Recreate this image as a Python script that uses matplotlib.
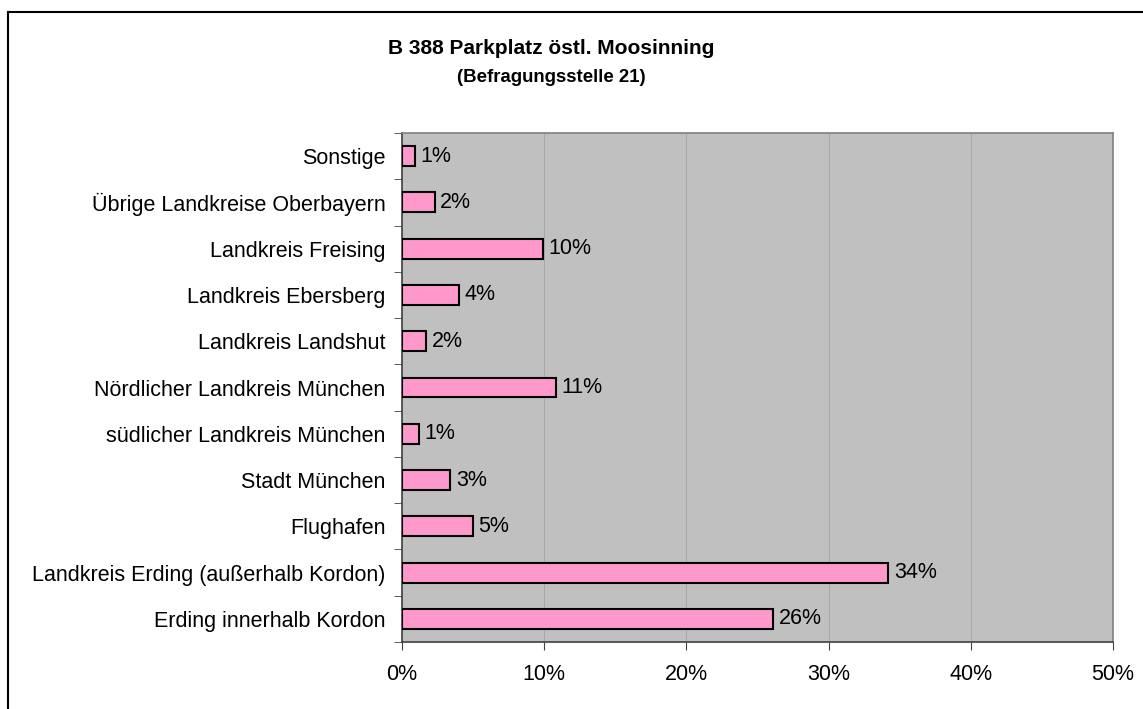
import matplotlib.pyplot as plt
import numpy as np
from matplotlib.lines import Line2D
from matplotlib.ticker import FuncFormatter, FixedLocator

plt.rcParams["font.family"] = ["Liberation Sans", "DejaVu Sans"]

categories = [
    "Erding innerhalb Kordon",
    "Landkreis Erding (außerhalb Kordon)",
    "Flughafen",
    "Stadt München",
    "südlicher Landkreis München",
    "Nördlicher Landkreis München",
    "Landkreis Landshut",
    "Landkreis Ebersberg",
    "Landkreis Freising",
    "Übrige Landkreise Oberbayern",
    "Sonstige",
]
shares = [26.1, 34.2, 5.0, 3.4, 1.2, 10.8, 1.7, 4.0, 9.9, 2.3, 0.9]
x_ticks = [0, 10, 20, 30, 40, 50]

W, H = 1143, 709
fig = plt.figure(figsize=(W / 100, H / 100), dpi=100)
fig.patch.set_facecolor("white")

# chart-area frame: only the top and left edges fall inside the image
fig.lines.append(Line2D([8 / W, 1], [1 - 12 / H, 1 - 12 / H], transform=fig.transFigure,
                        color="black", linewidth=1.5))
fig.lines.append(Line2D([8 / W, 8 / W], [0, 1 - 12 / H], transform=fig.transFigure,
                        color="black", linewidth=1.5))

ax = fig.add_axes([0.3517, 0.0945, 0.6221, 0.7179])
ax.set_facecolor("#c0c0c0")

y = np.arange(len(categories))
ax.barh(y, shares, height=0.43, color="#ff99cc", edgecolor="black", linewidth=1.5, zorder=3)
for yi, v in zip(y, shares):
    ax.annotate(f"{v:.0f}%", (v, yi), xytext=(4, 0), textcoords="offset points",
                va="center", ha="left", fontsize=15.5, zorder=4)

ax.set_xlim(0, 50)
ax.set_ylim(-0.5, len(categories) - 0.5)
ax.xaxis.set_major_locator(FixedLocator(x_ticks))
ax.xaxis.set_major_formatter(FuncFormatter(lambda v, _: f"{v:.0f}%"))
ax.grid(axis="x", color="#a8a8a8", linewidth=0.7, zorder=1)
ax.set_axisbelow(True)

ax.set_yticks(y)
ax.set_yticklabels(categories)
ax.set_yticks(np.arange(-0.5, len(categories), 1.0), minor=True)
ax.tick_params(axis="y", which="major", length=0, pad=12, labelsize=15.5)
ax.tick_params(axis="y", which="minor", length=6, direction="out", color="#404040")
ax.tick_params(axis="x", length=6, direction="out", color="#404040", labelsize=15.5, pad=10)

for side in ["top", "right"]:
    ax.spines[side].set_color("#808080")
    ax.spines[side].set_linewidth(1.2)
for side in ["left", "bottom"]:
    ax.spines[side].set_color("#404040")
    ax.spines[side].set_linewidth(1.2)

fig.text(551 / W, 1 - 49 / H, "B 388 Parkplatz östl. Moosinning", ha="center", va="center",
         fontsize=15, fontweight="bold")
fig.text(551 / W, 1 - 77 / H, "(Befragungsstelle 21)", ha="center", va="center",
         fontsize=13.4, fontweight="bold")

fig.savefig("out.png", dpi=100)
